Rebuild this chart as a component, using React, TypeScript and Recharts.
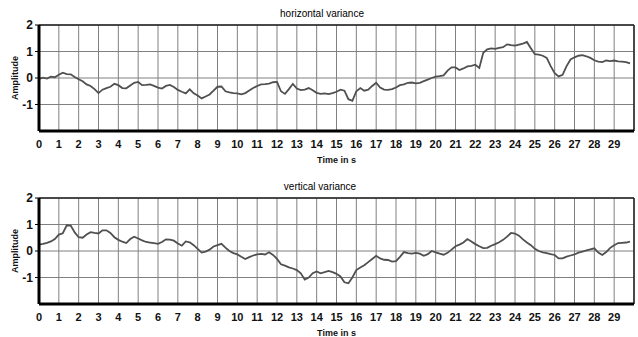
import { CartesianGrid, Line, LineChart, ReferenceLine, XAxis, YAxis } from "recharts";

// sampling step of both recordings, seconds
const STEP = 0.2;

const horizontal = [
  -0.03, 0.01, -0.02, 0.05, 0.03, 0.12, 0.2, 0.15, 0.14, 0.04,
  -0.05, -0.12, -0.24, -0.3, -0.42, -0.57, -0.44, -0.38, -0.33, -0.22,
  -0.27, -0.38, -0.39, -0.28, -0.18, -0.15, -0.27, -0.26, -0.24, -0.3,
  -0.36, -0.4, -0.3, -0.26, -0.34, -0.45, -0.52, -0.58, -0.43, -0.58,
  -0.66, -0.77, -0.7, -0.62, -0.48, -0.33, -0.32, -0.5, -0.54, -0.57,
  -0.58, -0.62, -0.57, -0.47, -0.38, -0.3, -0.24, -0.23, -0.21, -0.16,
  -0.15, -0.5, -0.6, -0.42, -0.22, -0.4, -0.46, -0.44, -0.38, -0.46,
  -0.56, -0.6, -0.58, -0.61, -0.57, -0.52, -0.44, -0.48, -0.8, -0.86,
  -0.5, -0.38, -0.48, -0.44, -0.3, -0.18, -0.36, -0.44, -0.45, -0.42,
  -0.36, -0.27, -0.24, -0.18, -0.17, -0.2, -0.18, -0.12, -0.06, 0.0,
  0.05, 0.07, 0.1, 0.28, 0.4, 0.4, 0.3, 0.36, 0.44, 0.46,
  0.5, 0.38, 0.95, 1.08, 1.12, 1.1, 1.14, 1.16, 1.27, 1.24,
  1.22, 1.26, 1.3, 1.36, 1.12, 0.9, 0.88, 0.84, 0.76, 0.45,
  0.18, 0.06, 0.12, 0.45, 0.7, 0.78, 0.84, 0.86, 0.82, 0.76,
  0.67, 0.62, 0.6, 0.66, 0.64, 0.66, 0.63, 0.62, 0.6, 0.55,
];

const vertical = [
  0.24, 0.27, 0.31, 0.36, 0.45, 0.62, 0.67, 0.97, 0.96, 0.7,
  0.52, 0.5, 0.62, 0.71, 0.68, 0.66, 0.78, 0.78, 0.68, 0.52,
  0.42, 0.35, 0.3, 0.45, 0.54, 0.47, 0.4, 0.34, 0.32, 0.3,
  0.27, 0.34, 0.44, 0.43, 0.39, 0.28, 0.2, 0.36, 0.33, 0.22,
  0.08, -0.06, -0.02, 0.05, 0.17, 0.22, 0.27, 0.13, 0.0, -0.08,
  -0.13, -0.22, -0.3, -0.23, -0.17, -0.13, -0.11, -0.13, -0.05, -0.15,
  -0.3, -0.5, -0.55, -0.62, -0.66, -0.72, -0.84, -1.08, -1.0, -0.84,
  -0.77, -0.84, -0.8, -0.75, -0.8, -0.86, -0.96, -1.18, -1.22, -1.0,
  -0.72, -0.62, -0.54, -0.42, -0.3, -0.18, -0.28, -0.33, -0.34, -0.4,
  -0.38, -0.22, -0.04, -0.08, -0.1, -0.07, -0.1, -0.18, -0.12, 0.0,
  -0.05, -0.1, -0.14, -0.07, 0.05, 0.18, 0.24, 0.32, 0.45, 0.36,
  0.26, 0.18, 0.11, 0.12, 0.2, 0.26, 0.33, 0.42, 0.54, 0.68,
  0.66, 0.58, 0.44, 0.32, 0.22, 0.08, 0.0, -0.05, -0.08, -0.12,
  -0.15, -0.28, -0.28, -0.21, -0.17, -0.13, -0.06, -0.02, 0.02, 0.06,
  0.1, -0.06, -0.15, -0.04, 0.12, 0.22, 0.3, 0.31, 0.32, 0.35,
];

const secondTicks = [
  0, 1, 2, 3, 4, 5, 6, 7, 8, 9, 10, 11, 12, 13, 14,
  15, 16, 17, 18, 19, 20, 21, 22, 23, 24, 25, 26, 27, 28, 29,
];
const amplitudeTicks = [-1, 0, 1, 2];

// small inward marks along the frame
const minorX = Array.from({ length: 151 }, (_, i) => +(i * 0.2).toFixed(1));
const minorY = Array.from({ length: 17 }, (_, i) => -2 + i * 0.25);

const FONT = '"Liberation Sans", Arial, sans-serif';

function Panel({ title, values, top, titleX }: { title: string; values: number[]; top: number; titleX: number }) {
  const data = values.map((v, i) => ({ t: +(i * STEP).toFixed(1), v }));
  return (
    <div style={{ position: "absolute", left: 0, top, width: 638, height: 168 }}>
      <div
        style={{
          position: "absolute", left: titleX, top: 8, transform: "translateX(-50%)",
          fontFamily: FONT, fontSize: 10, lineHeight: "12px", color: "#000", whiteSpace: "nowrap",
        }}
      >
        {title}
      </div>
      <LineChart width={638} height={168} data={data} margin={{ top: 25, right: 4, bottom: 0, left: 0 }}>
        <CartesianGrid stroke="#808080" strokeWidth={1} />
        <XAxis
          dataKey="t" type="number" domain={[0, 30]} ticks={secondTicks} interval={0}
          height={37} tickSize={0} tickMargin={9}
          axisLine={{ stroke: "#000", strokeWidth: 3 }}
          tick={{ fill: "#111", fontSize: 11, fontWeight: 700, fontFamily: FONT }}
          label={{ value: "Time in s", position: "insideBottom", offset: 5, fill: "#111", fontSize: 9, fontWeight: 700, fontFamily: FONT }}
        />
        <XAxis
          xAxisId="minor" dataKey="t" type="number" domain={[0, 30]} ticks={minorX} interval={0}
          mirror tick={false} tickSize={3} axisLine={false} tickLine={{ stroke: "#333" }}
        />
        <YAxis
          type="number" domain={[-2, 2]} ticks={amplitudeTicks} interval={0} width={39}
          tickSize={4} tickMargin={2}
          axisLine={{ stroke: "#000", strokeWidth: 3 }} tickLine={{ stroke: "#000" }}
          tick={{ fill: "#111", fontSize: 12, fontWeight: 700, fontFamily: FONT }}
          label={{ value: "Amplitude", angle: -90, position: "center", dx: -5, fill: "#111", fontSize: 9, fontWeight: 700, fontFamily: FONT }}
        />
        <YAxis
          yAxisId="minor" type="number" domain={[-2, 2]} ticks={minorY} interval={0}
          mirror tick={false} tickSize={3} axisLine={false} tickLine={{ stroke: "#333" }}
        />
        <ReferenceLine y={2} stroke="#222" strokeWidth={1.5} />
        <ReferenceLine x={30} stroke="#222" strokeWidth={1.5} />
        <Line type="linear" dataKey="v" stroke="#505050" strokeWidth={1.8} dot={false} isAnimationActive={false} />
      </LineChart>
    </div>
  );
}

export default function App() {
  return (
    <div style={{ position: "absolute", left: 0, top: 0, width: 638, height: 337, background: "#fff", overflow: "hidden" }}>
      <Panel title="horizontal variance" values={horizontal} top={0} titleX={322} />
      <Panel title="vertical variance" values={vertical} top={173} titleX={320} />
    </div>
  );
}
